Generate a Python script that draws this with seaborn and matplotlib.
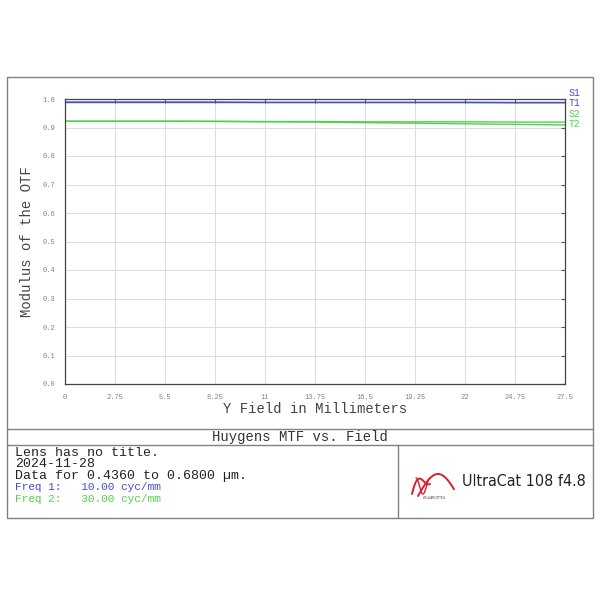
import numpy as np
import pandas as pd
import seaborn as sns
import matplotlib.pyplot as plt
from matplotlib.patches import Rectangle
from matplotlib.lines import Line2D

field = [0, 2.75, 5.5, 8.25, 11, 13.75, 16.5, 19.25, 22, 24.75, 27.5]
s1 = [0.990, 0.990, 0.990, 0.990, 0.990, 0.990, 0.990, 0.990, 0.990, 0.990, 0.990]
t1 = [0.989, 0.989, 0.989, 0.989, 0.988, 0.988, 0.988, 0.988, 0.988, 0.987, 0.987]
s2 = [0.922, 0.922, 0.922, 0.922, 0.921, 0.921, 0.920, 0.920, 0.920, 0.919, 0.919]
t2 = [0.922, 0.922, 0.922, 0.921, 0.920, 0.919, 0.917, 0.915, 0.913, 0.911, 0.909]
xticks = [0, 2.75, 5.5, 8.25, 11, 13.75, 16.5, 19.25, 22, 24.75, 27.5]
xtick_labels = ["0", "2.75", "5.5", "8.25", "11", "13.75", "16.5", "19.25", "22", "24.75", "27.5"]
yticks = [0.0, 0.1, 0.2, 0.3, 0.4, 0.5, 0.6, 0.7, 0.8, 0.9, 1.0]

BLUE = "#4a4ad0"
GREEN = "#4cd44c"

df = pd.concat([
    pd.DataFrame({"field": field, "mtf": s1, "curve": "S1"}),
    pd.DataFrame({"field": field, "mtf": t1, "curve": "T1"}),
    pd.DataFrame({"field": field, "mtf": s2, "curve": "S2"}),
    pd.DataFrame({"field": field, "mtf": t2, "curve": "T2"}),
])
palette = {"S1": BLUE, "T1": BLUE, "S2": GREEN, "T2": GREEN}

sns.set_style("white")
plt.rcParams["font.family"] = ["Liberation Mono", "DejaVu Sans Mono"]

fig = plt.figure(figsize=(6, 6), dpi=100)

# frames
fx = lambda px: px / 600
fy = lambda py: 1 - py / 600
FRAME = "#808080"
fig.add_artist(Rectangle((fx(7), fy(518)), fx(586), 441 / 600, fill=False,
                         edgecolor=FRAME, lw=1.0, transform=fig.transFigure))
fig.add_artist(Line2D([fx(7), fx(593)], [fy(429), fy(429)], color=FRAME, lw=1.0))
fig.add_artist(Line2D([fx(7), fx(593)], [fy(445), fy(445)], color=FRAME, lw=1.0))
fig.add_artist(Line2D([fx(398), fx(398)], [fy(445), fy(518)], color=FRAME, lw=1.0))

ax = fig.add_axes([65 / 600, 1 - 384 / 600, 500 / 600, 285 / 600])
sns.lineplot(data=df, x="field", y="mtf", hue="curve", palette=palette,
             legend=False, lw=1.0, ax=ax)
ax.set_xlim(0, 27.5)
ax.set_ylim(0, 1.0)
ax.set_xticks(xticks)
ax.set_xticklabels(xtick_labels)
ax.set_yticks(yticks)
ax.set_yticklabels([f"{v:.1f}" for v in yticks])
ax.grid(True, color="#dcdcdc", lw=0.7)
ax.tick_params(direction="in", length=3, width=0.8, color="#555555",
               labelsize=5, labelcolor="#808080", top=True, right=True, pad=7)
for sp in ax.spines.values():
    sp.set_color("#444444")
    sp.set_linewidth(0.9)
ax.set_xlabel("Y Field in Millimeters", fontsize=10, color="#444444", labelpad=1)
ax.set_ylabel("Modulus of the OTF", fontsize=10, color="#444444", labelpad=6)

# curve labels at the right end
ax.text(1.008, 1.004, "S1\nT1", transform=ax.get_yaxis_transform(), fontsize=7,
        color=BLUE, va="center", ha="left", linespacing=0.95, clip_on=False)
ax.text(1.008, 0.930, "S2\nT2", transform=ax.get_yaxis_transform(), fontsize=7,
        color=GREEN, va="center", ha="left", linespacing=0.95, clip_on=False)

fig.text(0.5, fy(437), "Huygens MTF vs. Field", ha="center", va="center",
         fontsize=10, color="#333333")
info = ["Lens has no title.", "2024-11-28", "Data for 0.4360 to 0.6800 µm."]
fig.text(fx(15), fy(447), "\n".join(info), ha="left", va="top",
         fontsize=9.5, color="#222222", linespacing=0.92)
fig.text(fx(15), fy(487), "Freq 1:   10.00 cyc/mm", ha="left", va="center",
         fontsize=8, color=BLUE)
fig.text(fx(15), fy(498.5), "Freq 2:   30.00 cyc/mm", ha="left", va="center",
         fontsize=8, color=GREEN)

# logo
lax = fig.add_axes([fx(408), fy(500), fx(50), 34 / 600])
lax.set_xlim(0, 50)
lax.set_ylim(0, 34)
lax.axis("off")
t = np.linspace(0, 1, 60)
lax.plot(4 + 18 * t, 6 + 20 * np.sin(np.pi * t) * (1 - t) + 10 * t, color="#d8202a", lw=1.4)
lax.plot(10 + 36 * t, 4 + 22 * np.sin(np.pi * t * 0.9), color="#d8202a", lw=1.4)
lax.plot(8 + 14 * t, 14 + 8 * np.cos(np.pi * 2 * t), color="#d8202a", lw=1.0)
lax.text(26, 2, "WILLIAM OPTICS", fontsize=2, ha="center", va="center",
         family="DejaVu Sans", color="#333333")
fig.text(fx(462), fy(481), "UltraCat 108 f4.8", ha="left", va="center",
         fontsize=11.5, color="#222222", family="DejaVu Sans", fontstretch="condensed")

fig.savefig("out.png", dpi=100)
